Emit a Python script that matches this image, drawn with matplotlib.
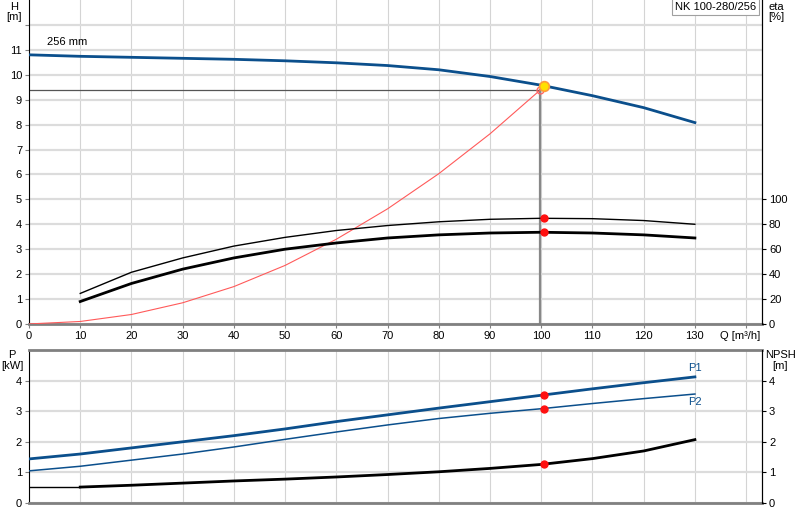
import matplotlib
matplotlib.use("Agg")
import matplotlib.pyplot as plt

plt.rcParams["font.family"] = ["Liberation Sans", "DejaVu Sans"]
plt.rcParams["font.size"] = 8

BLUE = "#0b4f8c"
GRID = "#dcdcdc"

# pump curve H (256 mm impeller)
q_h = [0, 10, 20, 30, 40, 50, 60, 70, 80, 90, 100, 110, 120, 130]
h = [10.8, 10.74, 10.7, 10.66, 10.62, 10.56, 10.48, 10.37, 10.2, 9.93, 9.58, 9.16, 8.68, 8.08]

# system curve
q_sys = [0, 10, 20, 30, 40, 50, 60, 70, 80, 90, 99.7]
h_sys = [0, 0.1, 0.38, 0.85, 1.5, 2.35, 3.4, 4.62, 6.03, 7.63, 9.37]

# efficiency curves [%]
q_eta = [10, 20, 30, 40, 50, 60, 70, 80, 90, 100, 110, 120, 130]
eta_1 = [24.5, 41.5, 53, 62.5, 69.5, 75, 79, 82, 84, 84.8, 84.5, 83, 80]
eta_2 = [18, 32.5, 44, 53, 60, 65, 69, 71.5, 73, 73.6, 73, 71.5, 69]

# power and NPSH
q_p = [0, 10, 20, 30, 40, 50, 60, 70, 80, 90, 100, 110, 120, 130]
p1 = [1.44, 1.6, 1.8, 2.0, 2.2, 2.42, 2.66, 2.88, 3.1, 3.31, 3.52, 3.73, 3.93, 4.12]
p2 = [1.05, 1.2, 1.4, 1.6, 1.83, 2.08, 2.32, 2.55, 2.76, 2.93, 3.08, 3.25, 3.41, 3.56]
q_npsh = [10, 20, 30, 40, 50, 60, 70, 80, 90, 100, 110, 120, 130]
npsh = [0.52, 0.58, 0.65, 0.72, 0.78, 0.85, 0.93, 1.02, 1.13, 1.26, 1.45, 1.7, 2.07]
npsh_low_q = [0, 10]
npsh_low = [0.52, 0.52]

# duty point
q_duty = 99.7
h_duty = 9.37
q_op = 100.6
h_op = 9.55
eta_op = [84.8, 73.6]
p_op = [3.53, 3.06, 1.26]

x_ticks = list(range(0, 150, 10))
x_labels = [str(v) for v in range(0, 140, 10)] + [""]

fig = plt.figure(figsize=(8, 5.2), dpi=100)
ax = fig.add_axes([0.03625, 0.377, 0.91625, 0.623])
ax_b = fig.add_axes([0.03625, 0.0327, 0.91625, 0.2943])

for a in (ax, ax_b):
    a.set_xlim(0, 143.1)
    a.set_xticks(x_ticks)
    a.grid(axis="x", color="#d4d4d4", lw=0.8)
    a.grid(axis="y", color=GRID, lw=1.6)
    a.set_axisbelow(True)
    a.spines["left"].set_color("black")
    a.spines["right"].set_color("black")
    a.spines["bottom"].set_color("#808080")
    a.spines["bottom"].set_linewidth(2)
    a.tick_params(length=3, color="#808080", pad=2)

# top chart
ax.set_ylim(0, 13)
ax.set_yticks(range(0, 13))
ax.set_yticklabels([str(v) for v in range(0, 12)] + [""])
ax.set_xticklabels(x_labels)
ax.spines["top"].set_visible(False)

ax.plot(q_h, h, color=BLUE, lw=2, zorder=3)
ax.plot(q_sys, h_sys, color="#ff5a5a", lw=0.8, zorder=3)
ax.plot([0, q_duty], [h_duty, h_duty], color="#555555", lw=0.9, zorder=2)
ax.plot([q_duty, q_duty], [0, h_duty], color="#888888", lw=1.6, zorder=2)
ax.plot(q_duty, h_duty, "o", mfc="none", mec="#ff6666", ms=5, mew=1, zorder=4)
ax.plot(q_op, h_op, "o", mfc="#ffe000", mec="#ff9a3a", ms=7, mew=1.2, zorder=5)
ax.text(3.5, 11.1, "256 mm", va="bottom")

ax_eta = ax.twinx()
ax_eta.set_ylim(0, 260)
ax_eta.set_yticks(range(0, 120, 20))
ax_eta.spines["top"].set_visible(False)
ax_eta.spines["bottom"].set_visible(False)
ax_eta.spines["left"].set_visible(False)
ax_eta.tick_params(length=3, pad=2)
ax_eta.plot(q_eta, eta_1, color="black", lw=1, zorder=3)
ax_eta.plot(q_eta, eta_2, color="black", lw=2, zorder=3)
ax_eta.plot([q_op, q_op], eta_op, "o", color="#ff1010", ms=5, ls="none", zorder=4)

ax.annotate("Q [m³/h]", xy=(138.8, 0), xycoords="data", xytext=(0, -5),
            textcoords="offset points", ha="center", va="top")
fig.text(0.0175, 0.997, "H\n[m]", ha="center", va="top", linespacing=1.1)
fig.text(0.97, 0.997, "eta\n[%]", ha="center", va="top", linespacing=1.1)
ax.text(0.992, 0.995, "NK 100-280/256", transform=ax.transAxes, ha="right", va="top",
        bbox=dict(boxstyle="square,pad=0.3", fc="white", ec="#a0a0a0", lw=0.8))

# bottom chart
ax_b.set_ylim(0, 5)
ax_b.set_yticks(range(0, 5))
ax_b.set_xticklabels([])
ax_b.spines["top"].set_color("#808080")
ax_b.spines["top"].set_linewidth(2)
ax_b.tick_params(axis="x", length=0)

ax_b.plot(q_p, p1, color=BLUE, lw=2, zorder=3)
ax_b.plot(q_p, p2, color=BLUE, lw=1.1, zorder=3)
ax_b.plot(q_npsh, npsh, color="black", lw=2, zorder=3)
ax_b.plot(npsh_low_q, npsh_low, color="black", lw=1, zorder=3)
ax_b.plot([q_op] * 3, p_op, "o", color="#ff1010", ms=5, ls="none", zorder=4)
ax_b.text(q_p[-1], p1[-1] + 0.12, "P1", color=BLUE, ha="center", va="bottom")
ax_b.text(q_p[-1], p2[-1] - 0.1, "P2", color=BLUE, ha="center", va="top")

ax_n = ax_b.twinx()
ax_n.set_ylim(0, 5)
ax_n.set_yticks(range(0, 5))
ax_n.spines["top"].set_visible(False)
ax_n.spines["bottom"].set_visible(False)
ax_n.spines["left"].set_visible(False)
ax_n.tick_params(length=3, pad=2)

fig.text(0.015, 0.327, "P\n[kW]", ha="center", va="top", linespacing=1.1)
fig.text(0.975, 0.327, "NPSH\n[m]", ha="center", va="top", linespacing=1.1)

fig.savefig("out.png", dpi=100)
